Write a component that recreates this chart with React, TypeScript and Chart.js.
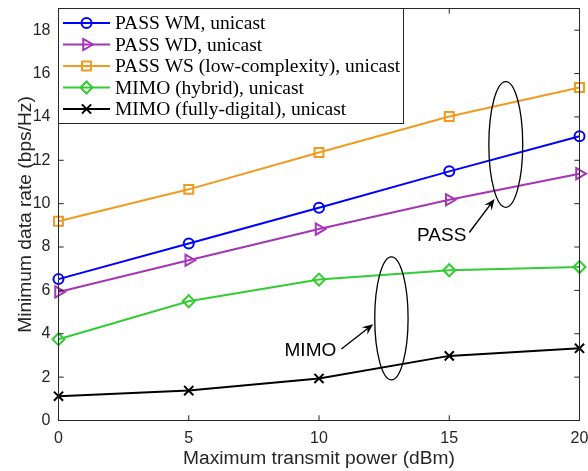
import React, { useEffect, useRef } from 'react';
import { Chart, registerables } from 'chart.js';
import { drawPoint } from 'chart.js/helpers';

Chart.register(...registerables);

// Maximum transmit power (dBm) on the x axis
const powerDbm = [0, 5, 10, 15, 20];

// Minimum data rate (bps/Hz) for each scheme
const passWm = [6.52, 8.16, 9.81, 11.49, 13.11];
const passWd = [5.93, 7.39, 8.83, 10.18, 11.38];
const passWs = [9.19, 10.66, 12.36, 14.02, 15.36];
const mimoHybrid = [3.75, 5.5, 6.5, 6.93, 7.08];
const mimoDigital = [1.12, 1.38, 1.94, 2.98, 3.33];

const seriesLabels = [
  'PASS WM, unicast',
  'PASS WD, unicast',
  'PASS WS (low-complexity), unicast',
  'MIMO (hybrid), unicast',
  'MIMO (fully-digital), unicast',
];

const xTicks = [0, 5, 10, 15, 20];
const yTicks = [0, 2, 4, 6, 8, 10, 12, 14, 16, 18];
const xMin = 0;
const xMax = 20;
const yMin = 0;
const yMax = 19;

const xTitle = 'Maximum transmit power (dBm)';
const yTitle = 'Minimum data rate (bps/Hz)';

// Group annotations (data units): ellipse around a bundle of curves, label, arrow
const passNote = { text: 'PASS', cx: 17.17, cy: 12.73, rx: 0.65, ry: 2.9, tx: 14.71, ty: 8.54, ax0: 15.77, ay0: 8.67, ax1: 16.74, ay1: 10.22 };
const mimoNote = { text: 'MIMO', cx: 12.78, cy: 4.71, rx: 0.64, ry: 2.84, tx: 9.67, ty: 3.23, ax0: 10.86, ay0: 3.3, ax1: 12.08, ay1: 4.44 };

const seriesStyles = [
  { color: '#0000ff', pointStyle: 'circle', radius: 5, rotation: 0 },
  { color: '#a535b5', pointStyle: 'triangle', radius: 6.5, rotation: 90 },
  { color: '#f29a1f', pointStyle: 'rect', radius: 6.3, rotation: 0 },
  { color: '#33cc33', pointStyle: 'rectRot', radius: 6, rotation: 0 },
  { color: '#000000', pointStyle: 'crossRot', radius: 6.5, rotation: 0 },
];

const seriesValues = [passWm, passWd, passWs, mimoHybrid, mimoDigital];

const AXIS_COLOR = '#262626';
const SANS = '"Liberation Sans", Arial, Helvetica, sans-serif';
const SERIF = '"Liberation Serif", "Times New Roman", Times, serif';

function drawArrow(ctx: CanvasRenderingContext2D, x0: number, y0: number, x1: number, y1: number) {
  const dx = x1 - x0;
  const dy = y1 - y0;
  const len = Math.hypot(dx, dy);
  const ux = dx / len;
  const uy = dy / len;
  const px = -uy;
  const py = ux;
  const headLen = 11;
  const headHalf = 4.6;
  ctx.beginPath();
  ctx.moveTo(x0, y0);
  ctx.lineTo(x1 - ux * headLen * 0.6, y1 - uy * headLen * 0.6);
  ctx.stroke();
  ctx.beginPath();
  ctx.moveTo(x1, y1);
  ctx.lineTo(x1 - ux * headLen + px * headHalf, y1 - uy * headLen + py * headHalf);
  ctx.lineTo(x1 - ux * headLen * 0.65, y1 - uy * headLen * 0.65);
  ctx.lineTo(x1 - ux * headLen - px * headHalf, y1 - uy * headLen - py * headHalf);
  ctx.closePath();
  ctx.fill();
}

// Axis scales keep a fixed size and no extra edge padding, so the plot box sits at a set place
function fixScale(size: number) {
  return (s: any) => {
    if (s.isHorizontal()) s.height = size;
    else s.width = size;
    s.paddingTop = 0;
    s.paddingBottom = 0;
    s.paddingLeft = 0;
    s.paddingRight = 0;
  };
}

const framePlugin = {
  id: 'matlabFrame',
  afterDatasetsDraw(chart: any) {
    const { ctx, chartArea, scales } = chart;
    const xs = scales.x;
    const ys = scales.y;
    ctx.save();

    // Group ellipses, arrows and labels
    for (const note of [passNote, mimoNote]) {
      const cx = xs.getPixelForValue(note.cx);
      const cy = ys.getPixelForValue(note.cy);
      const rx = Math.abs(xs.getPixelForValue(note.cx + note.rx) - cx);
      const ry = Math.abs(ys.getPixelForValue(note.cy + note.ry) - cy);
      ctx.strokeStyle = '#000';
      ctx.lineWidth = 1.3;
      ctx.beginPath();
      ctx.ellipse(cx, cy, rx, ry, 0, 0, Math.PI * 2);
      ctx.stroke();

      ctx.fillStyle = '#000';
      ctx.lineWidth = 1.4;
      drawArrow(
        ctx,
        xs.getPixelForValue(note.ax0),
        ys.getPixelForValue(note.ay0),
        xs.getPixelForValue(note.ax1),
        ys.getPixelForValue(note.ay1)
      );

      ctx.font = `19px ${SANS}`;
      ctx.textAlign = 'center';
      ctx.textBaseline = 'middle';
      ctx.fillText(note.text, xs.getPixelForValue(note.tx), ys.getPixelForValue(note.ty));
    }

    // Axes box
    const { left, right, top, bottom } = chartArea;
    ctx.strokeStyle = AXIS_COLOR;
    ctx.lineWidth = 1;
    ctx.strokeRect(left, top, right - left, bottom - top);

    // Inward tick marks on all four sides
    const tickLen = 5.2;
    ctx.beginPath();
    for (const v of xTicks) {
      const px = xs.getPixelForValue(v);
      ctx.moveTo(px, bottom);
      ctx.lineTo(px, bottom - tickLen);
      ctx.moveTo(px, top);
      ctx.lineTo(px, top + tickLen);
    }
    for (const v of yTicks) {
      const py = ys.getPixelForValue(v);
      ctx.moveTo(left, py);
      ctx.lineTo(left + tickLen, py);
      ctx.moveTo(right, py);
      ctx.lineTo(right - tickLen, py);
    }
    ctx.stroke();
    ctx.restore();
  },
  afterDraw(chart: any) {
    const { ctx, chartArea } = chart;
    const x0 = chartArea.left;
    const y0 = chartArea.top;
    const w = 345;
    const h = 115;
    ctx.save();
    ctx.fillStyle = '#ffffff';
    ctx.fillRect(x0, y0, w, h);
    ctx.strokeStyle = AXIS_COLOR;
    ctx.lineWidth = 1;
    ctx.strokeRect(x0, y0, w, h);

    seriesLabels.forEach((label, i) => {
      const st = seriesStyles[i];
      const ry = y0 + 14.5 + i * 21.5;
      ctx.strokeStyle = st.color;
      ctx.lineWidth = 2;
      ctx.beginPath();
      ctx.moveTo(x0 + 4.5, ry);
      ctx.lineTo(x0 + 51.5, ry);
      ctx.stroke();
      ctx.fillStyle = 'rgba(0,0,0,0)';
      drawPoint(ctx, { pointStyle: st.pointStyle, rotation: st.rotation, radius: st.radius, borderWidth: 2 } as any, x0 + 28, ry);

      ctx.fillStyle = '#000';
      ctx.font = `19.5px ${SERIF}`;
      ctx.textAlign = 'left';
      ctx.textBaseline = 'middle';
      ctx.fillText(label, x0 + 56.5, ry + 1);
    });
    ctx.restore();
  },
};

export default function App() {
  const canvasRef = useRef<HTMLCanvasElement | null>(null);

  useEffect(() => {
    const canvas = canvasRef.current;
    if (!canvas) return;

    const datasets = seriesValues.map((vals, i) => {
      const st = seriesStyles[i];
      return {
        label: seriesLabels[i],
        data: powerDbm.map((x, j) => ({ x, y: vals[j] })),
        borderColor: st.color,
        backgroundColor: 'rgba(0,0,0,0)',
        borderWidth: 2,
        pointStyle: st.pointStyle,
        pointRotation: st.rotation,
        pointRadius: st.radius,
        pointBorderWidth: 2,
        pointBorderColor: st.color,
        pointBackgroundColor: 'rgba(0,0,0,0)',
        tension: 0,
        clip: false,
      };
    });

    const tickFont = { family: SANS, size: 16 };
    const titleFont = { family: SANS, size: 19.2 };

    const chart = new Chart(canvas, {
      type: 'line',
      data: { datasets: datasets as any },
      options: {
        animation: false,
        responsive: false,
        devicePixelRatio: 1,
        events: [],
        layout: { padding: { top: 7.5, right: 8.5, left: 0, bottom: 0 } },
        plugins: {
          legend: { display: false },
          tooltip: { enabled: false },
        },
        scales: {
          x: {
            type: 'linear',
            min: xMin,
            max: xMax,
            grid: { display: false, drawTicks: false },
            border: { display: false },
            afterBuildTicks: (s: any) => {
              s.ticks = xTicks.map((v) => ({ value: v }));
            },
            afterFit: fixScale(50.5),
            ticks: { color: AXIS_COLOR, font: tickFont, padding: 8.5, maxRotation: 0, autoSkip: false },
            title: { display: true, text: xTitle, color: AXIS_COLOR, font: titleFont, padding: { top: 0, bottom: 0.4 } },
          },
          y: {
            type: 'linear',
            min: yMin,
            max: yMax,
            grid: { display: false, drawTicks: false },
            border: { display: false },
            afterBuildTicks: (s: any) => {
              s.ticks = yTicks.map((v) => ({ value: v }));
            },
            afterFit: fixScale(58.5),
            ticks: { color: AXIS_COLOR, font: tickFont, padding: 8, autoSkip: false },
            title: { display: true, text: yTitle, color: AXIS_COLOR, font: titleFont, padding: { top: 13.9, bottom: 0 } },
          },
        },
      },
      plugins: [framePlugin],
    });

    return () => chart.destroy();
  }, []);

  return (
    <div style={{ position: 'absolute', left: 0, top: 0, width: 588, height: 471, background: '#fff' }}>
      <canvas ref={canvasRef} width={588} height={471} style={{ display: 'block' }} />
    </div>
  );
}
